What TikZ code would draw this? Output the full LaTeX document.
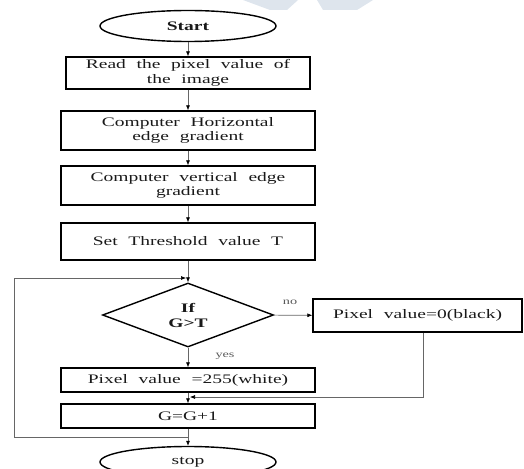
\documentclass[tikz,border=0pt]{standalone}
\usepackage{fontspec}
\setmainfont{Liberation Serif}[FakeStretch=1.5,WordSpace=2.2]
\usetikzlibrary{arrows.meta,shapes.geometric}
\definecolor{markgray}{rgb}{0.87,0.90,0.93}
\begin{document}
\begin{tikzpicture}[x=1pt, y=-1pt, >={Latex[length=5pt,width=4pt,color=black]}, line width=0.6pt,
                stepbox/.style={
                        rectangle,
                        draw,
                        line width=1.4pt,
                        text=black!90,
                        align=center,
                        inner sep=0pt,
                        minimum width=254pt,
                        font=\fontsize{13}{14.5}\selectfont},
                terminal/.style={
                        ellipse,
                        draw,
                        line width=1.4pt,
                        text=black!90,
                        inner sep=0pt,
                        minimum width=176pt,
                        minimum height=31pt,
                        font=\fontsize{13}{14.5}\selectfont},
                decision/.style={
                        diamond,
                        draw,
                        line width=1.4pt,
                        text=black!90,
                        align=center,
                        inner sep=0pt,
                        minimum width=171pt,
                        minimum height=64pt,
                        font=\bfseries\fontsize{13}{15}\selectfont},
                link/.style={draw=black!60},
                tag/.style={text=black!65, font=\fontsize{9.5}{10}\selectfont}]

                \useasboundingbox (0,0) rectangle (524,468);

                \fill[markgray] (243,0) -- (298,0) -- (287,10) -- (270,10) -- cycle;
                \fill[markgray] (317,0) -- (373,0) -- (357,10) -- (323,10) -- cycle;

                \node[terminal, font=\bfseries\fontsize{13}{14.5}\selectfont] (start) at (188,26) {Start};

                \node[stepbox, minimum width=244pt, minimum height=32pt] (read) at (188,73) {Read the pixel value of\\the image};

                \node[stepbox, minimum height=39pt] (horiz) at (188,130.5) {Computer Horizontal\\edge gradient};

                \node[stepbox, minimum height=39pt] (vert) at (188,185.5) {Computer vertical edge\\gradient};

                \node[stepbox, minimum height=37pt] (thresh) at (188,241.5) {Set Threshold value T};

                \node[decision] (test) at (188,315) {If\\G>T};

                \node[stepbox, minimum width=209pt, minimum height=33pt] (black) at (417.5,315.5) {Pixel value=0(black)};

                \node[stepbox, minimum height=24pt] (white) at (188,380) {Pixel value =255(white)};

                \node[stepbox, minimum height=24pt] (incr) at (188,416) {G=G+1};

                \node[terminal] (stop) at (188,462) {stop};

                \node[tag] (no) at (290,302) {no};
                \node[tag] (yes) at (225,356) {yes};

                \coordinate (loopout) at (188,437);
                \coordinate (loopin) at (186,278);
                \coordinate (merge) at (190,397);

                \draw[link, ->] (start) -- (read);
                \draw[link, ->] (read) -- (horiz);
                \draw[link, ->] (horiz) -- (vert);
                \draw[link, ->] (vert) -- (thresh);
                \draw[link, ->] (thresh) -- (test);
                \draw[link, ->] (test) -- (black);
                \draw[link, ->] (test) -- (white);
                \draw[link, ->] (white) -- (incr);
                \draw[link, ->] (incr) -- (stop);
                \draw[link, ->] ([xshift=5.5pt]black.south) |- (merge);
                \draw[link, ->] (loopout) -- (14,437) -- (14,278) -- (loopin);
            \end{tikzpicture}
\end{document}
